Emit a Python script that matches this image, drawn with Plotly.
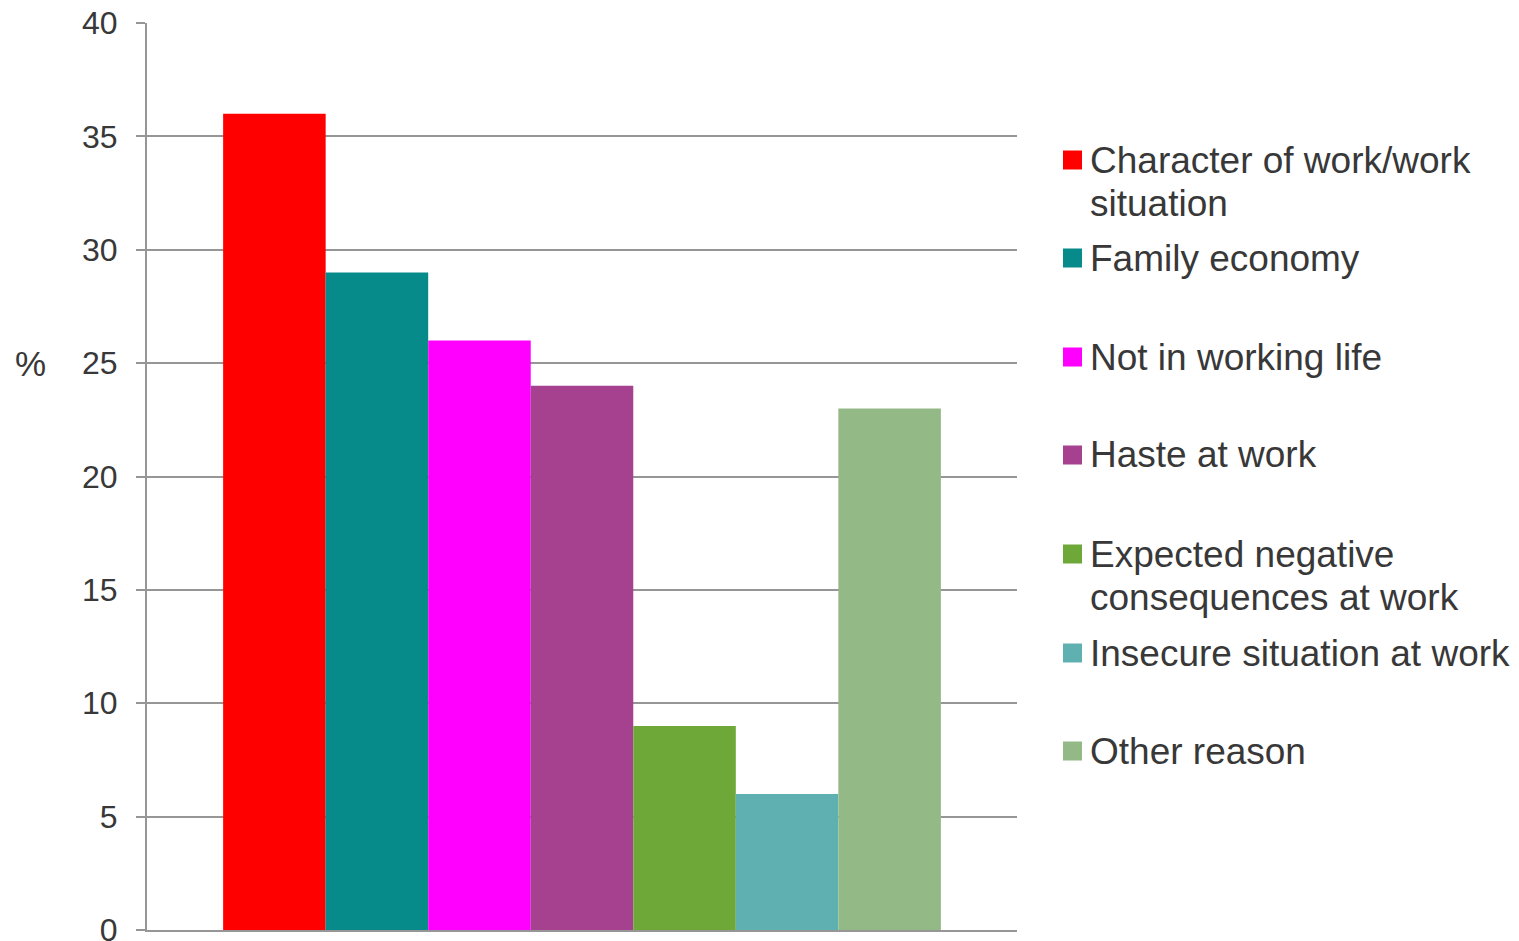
import plotly.graph_objects as go

# Reasons and share of respondents (%)
reasons = [
    "Character of work/work<br>situation",
    "Family economy",
    "Not in working life",
    "Haste at work",
    "Expected negative<br>consequences at work",
    "Insecure situation at work",
    "Other reason",
]
shares = [36, 29, 26, 24, 9, 6, 23]
colors = ["#FF0000", "#078B8A", "#FF00FF", "#A5418F", "#6DA838", "#5FB1B1", "#93B986"]

# y-axis ticks
y_ticks = [0, 5, 10, 15, 20, 25, 30, 35, 40]

W, H = 1519, 941
L, R, T, B = 147, 502, 23, 11
plot_w = W - L - R
plot_h = H - T - B

grid = "#969696"
text_col = "#383838"
font_family = "Liberation Sans, Arial, sans-serif"

fig = go.Figure()
for name, val, col in zip(reasons, shares, colors):
    fig.add_trace(go.Bar(
        x=["all"], y=[val], name=name.replace("<br>", " "),
        marker=dict(color=col, line=dict(width=0)),
        showlegend=False,
    ))

# Custom legend: first lines spaced evenly down the right side
legend_first_line_px = [160, 258, 357, 455, 554, 653, 751]
line_step = 43

def px_to_paper_x(px):
    return (px - L) / plot_w

def px_to_paper_y(py):
    return (H - B - py) / plot_h

shapes = []
annotations = []
for name, col, py in zip(reasons, colors, legend_first_line_px):
    shapes.append(dict(
        type="rect", xref="paper", yref="paper",
        x0=px_to_paper_x(1063), x1=px_to_paper_x(1082),
        y0=px_to_paper_y(py + 9.5), y1=px_to_paper_y(py - 9.5),
        fillcolor=col, line=dict(width=0),
    ))
    for i, line in enumerate(name.split("<br>")):
        annotations.append(dict(
            text=line, xref="paper", yref="paper",
            x=px_to_paper_x(1088), y=px_to_paper_y(py + i * line_step),
            xanchor="left", yanchor="middle", align="left",
            showarrow=False,
            font=dict(size=37, color=text_col, family=font_family),
        ))

annotations.append(dict(
    text="%", xref="paper", yref="paper",
    x=px_to_paper_x(30), y=px_to_paper_y(363),
    xanchor="center", yanchor="middle", showarrow=False,
    font=dict(size=35, color=text_col, family=font_family),
))

fig.update_layout(
    width=W, height=H,
    margin=dict(l=L, r=R, t=T, b=B, pad=0, autoexpand=False),
    paper_bgcolor="white", plot_bgcolor="white",
    barmode="group", bargap=0.175, bargroupgap=0,
    shapes=shapes, annotations=annotations,
    font=dict(family=font_family, color=text_col),
)
fig.update_xaxes(
    showticklabels=False, ticks="", showgrid=False,
    showline=True, linecolor=grid, linewidth=2,
    range=[-0.5, 0.5], automargin=False,
)
fig.update_yaxes(
    range=[0, 40], tickvals=y_ticks,
    showgrid=True, gridcolor=grid, gridwidth=1.5,
    zeroline=False, automargin=False,
    showline=True, linecolor=grid, linewidth=2,
    ticks="outside", ticklen=9, tickcolor=grid, tickwidth=2,
    ticklabelstandoff=12, ticklabeloverflow="allow",
    tickfont=dict(size=32, color=text_col, family=font_family),
)

fig.write_html("out.html")
